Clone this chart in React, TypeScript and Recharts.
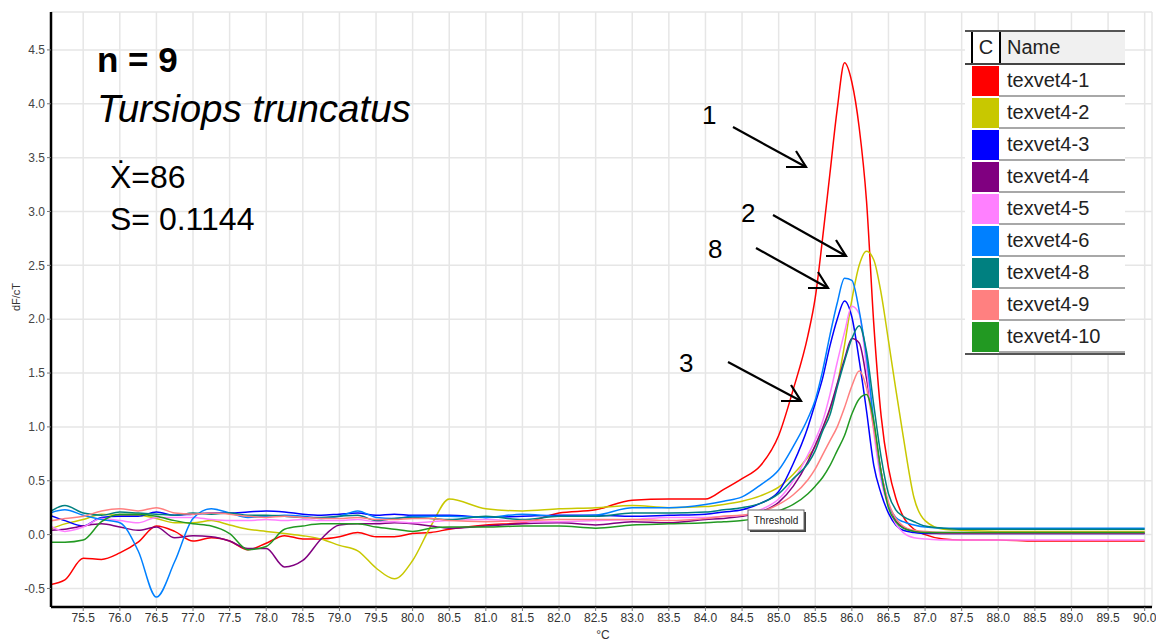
import React from "react";
import { LineChart, Line, XAxis, YAxis, CartesianGrid } from "recharts";

// melt temperature (°C) at which each curve was sampled
const temps = [
  75.0, 75.25, 75.5, 75.75, 76.0, 76.25, 76.5, 76.75, 77.0, 77.25, 77.5, 77.75,
  78.0, 78.25, 78.5, 78.75, 79.0, 79.25, 79.5, 79.75, 80.0, 80.25, 80.5,
  81.0, 81.5, 82.0, 82.5, 83.0, 83.5, 84.0,
  84.25, 84.5, 84.75, 85.0, 85.2, 85.4,
  85.5, 85.6, 85.7, 85.8, 85.9, 86.0, 86.1, 86.2, 86.3, 86.4, 86.5, 86.6, 86.7,
  86.85, 87.0, 87.25,
  87.5, 88.0, 88.5, 89.0, 89.5, 90.0,
];

// dF/cT per sample
const texvet1 = [
  -0.47, -0.42, -0.22, -0.23, -0.17, -0.07, 0.08, 0.03, -0.06, -0.03, -0.06, -0.14,
  -0.08, -0.01, -0.04, -0.04, -0.02, 0.02, -0.02, -0.02, 0.01, 0.02, 0.05,
  0.09, 0.11, 0.2, 0.23, 0.32, 0.33, 0.33,
  0.42, 0.52, 0.64, 0.92, 1.35, 1.85,
  2.2, 2.75, 3.35, 3.95, 4.38, 4.2, 3.78, 3.1, 1.95, 1.1, 0.62, 0.34, 0.17,
  0.05, 0.0, -0.04,
  -0.05, -0.05, -0.06, -0.06, -0.06, -0.06,
];
const texvet2 = [
  0.04, 0.1, 0.14, 0.19, 0.18, 0.18, 0.15, 0.11, 0.11, 0.13, 0.09, 0.05,
  0.03, 0.01, -0.01, -0.04, -0.1, -0.15, -0.31, -0.41, -0.24, 0.08, 0.33,
  0.24, 0.22, 0.24, 0.25, 0.27, 0.25, 0.26,
  0.28, 0.31, 0.36, 0.44, 0.56, 0.72,
  0.82, 0.98, 1.16, 1.39, 1.76, 2.18, 2.5, 2.63, 2.55, 2.24, 1.8, 1.35, 0.92,
  0.34, 0.13, 0.05,
  0.04, 0.03, 0.03, 0.03, 0.03, 0.03,
];
const texvet3 = [
  0.19, 0.13, 0.08, 0.16, 0.17, 0.17, 0.21, 0.18, 0.19, 0.2, 0.2, 0.21,
  0.22, 0.21, 0.19, 0.18, 0.19, 0.2, 0.18, 0.19, 0.18, 0.18, 0.18,
  0.16, 0.17, 0.18, 0.18, 0.17, 0.18, 0.19,
  0.21, 0.23, 0.29, 0.4, 0.66, 1.0,
  1.22, 1.45, 1.75, 2.0, 2.17, 2.02, 1.62, 1.15, 0.64, 0.38, 0.2, 0.09, 0.04,
  0.02, 0.01, 0.01,
  0.01, 0.01, 0.01, 0.01, 0.01, 0.01,
];
const texvet4 = [
  0.04, 0.05, 0.08, 0.1, 0.07, 0.04, 0.07, -0.03, -0.01, -0.02, -0.06, -0.13,
  -0.13, -0.3, -0.24, -0.04, 0.09, 0.1, 0.1, 0.11, 0.1, 0.08, 0.06,
  0.08, 0.1, 0.11, 0.09, 0.12, 0.11, 0.14,
  0.15, 0.17, 0.21, 0.3, 0.45, 0.68,
  0.83, 0.99, 1.17, 1.4, 1.63, 1.82, 1.78, 1.45, 1.02, 0.58, 0.28, 0.13, 0.07,
  0.03, 0.02, 0.01,
  0.01, 0.01, 0.01, 0.01, 0.01, 0.01,
];
const texvet5 = [
  0.1, 0.03, 0.07, 0.15, 0.13, 0.11, 0.16, 0.16, 0.16, 0.14, 0.13, 0.13,
  0.14, 0.13, 0.14, 0.13, 0.13, 0.14, 0.12, 0.12, 0.11, 0.12, 0.13,
  0.14, 0.12, 0.12, 0.13, 0.14, 0.16, 0.16,
  0.17, 0.18, 0.23, 0.33, 0.5, 0.74,
  0.88, 1.05, 1.3, 1.6, 1.88, 2.12, 2.05, 1.55, 0.95, 0.5, 0.26, 0.1, 0.02,
  -0.03, -0.04, -0.05,
  -0.05, -0.05, -0.05, -0.05, -0.05, -0.05,
];
const texvet6 = [
  0.19, 0.23, 0.18, 0.14, 0.11, -0.15, -0.58, -0.25, 0.15, 0.24, 0.2, 0.16,
  0.17, 0.18, 0.17, 0.15, 0.17, 0.22, 0.16, 0.15, 0.17, 0.17, 0.17,
  0.16, 0.19, 0.17, 0.18, 0.25, 0.25, 0.28,
  0.31, 0.35, 0.46, 0.6, 0.82, 1.08,
  1.25, 1.52, 1.85, 2.15, 2.38, 2.36, 2.08, 1.65, 1.05, 0.55, 0.28, 0.16, 0.12,
  0.09, 0.07, 0.06,
  0.06, 0.06, 0.06, 0.06, 0.06, 0.06,
];
const texvet8 = [
  0.19, 0.27, 0.2, 0.18, 0.21, 0.2, 0.19, 0.18, 0.2, 0.19, 0.2, 0.18,
  0.18, 0.17, 0.16, 0.16, 0.17, 0.18, 0.13, 0.15, 0.16, 0.15, 0.14,
  0.17, 0.14, 0.17, 0.17, 0.2, 0.2, 0.21,
  0.23, 0.25, 0.29, 0.38, 0.52, 0.66,
  0.78, 0.96, 1.11, 1.37, 1.61, 1.82, 1.94, 1.7, 1.2, 0.72, 0.38, 0.23, 0.17,
  0.12, 0.08, 0.06,
  0.05, 0.05, 0.05, 0.05, 0.05, 0.05,
];
const texvet9 = [
  0.12, 0.15, 0.17, 0.22, 0.24, 0.22, 0.25, 0.2, 0.19, 0.2, 0.19, 0.17,
  0.16, 0.17, 0.16, 0.15, 0.15, 0.16, 0.14, 0.14, 0.15, 0.15, 0.13,
  0.12, 0.13, 0.14, 0.14, 0.14, 0.13, 0.15,
  0.17, 0.18, 0.21, 0.28, 0.37, 0.51,
  0.61, 0.74, 0.87, 1.0, 1.18, 1.38, 1.52, 1.36, 0.98, 0.58, 0.3, 0.15, 0.08,
  0.04, 0.03, 0.02,
  0.02, 0.02, 0.02, 0.02, 0.02, 0.02,
];
const texvet10 = [
  -0.07, -0.07, -0.05, 0.12, 0.19, 0.19, 0.17, 0.13, 0.1, 0.08, 0.01, -0.14,
  -0.11, 0.05, 0.08, 0.1, 0.1, 0.1, 0.07, 0.05, 0.03, 0.06, 0.07,
  0.07, 0.08, 0.08, 0.06, 0.09, 0.1, 0.11,
  0.12, 0.13, 0.16, 0.22, 0.28, 0.38,
  0.45, 0.53, 0.64, 0.78, 0.92, 1.12, 1.26, 1.3, 1.05, 0.58, 0.25, 0.12, 0.06,
  0.03, 0.02, 0.02,
  0.02, 0.02, 0.02, 0.02, 0.02, 0.02,
];

const xTicks = [
  75.5, 76.0, 76.5, 77.0, 77.5, 78.0, 78.5, 79.0, 79.5, 80.0, 80.5, 81.0, 81.5, 82.0,
  82.5, 83.0, 83.5, 84.0, 84.5, 85.0, 85.5, 86.0, 86.5, 87.0, 87.5, 88.0, 88.5, 89.0,
  89.5, 90.0,
];
const yTicks = [-0.5, 0.0, 0.5, 1.0, 1.5, 2.0, 2.5, 3.0, 3.5, 4.0, 4.5];

const series = [
  { key: "s1", name: "texvet4-1", color: "#ff0000", values: texvet1 },
  { key: "s2", name: "texvet4-2", color: "#c8c800", values: texvet2 },
  { key: "s3", name: "texvet4-3", color: "#0000ff", values: texvet3 },
  { key: "s4", name: "texvet4-4", color: "#800080", values: texvet4 },
  { key: "s5", name: "texvet4-5", color: "#ff80ff", values: texvet5 },
  { key: "s6", name: "texvet4-6", color: "#0080ff", values: texvet6 },
  { key: "s8", name: "texvet4-8", color: "#008080", values: texvet8 },
  { key: "s9", name: "texvet4-9", color: "#ff8080", values: texvet9 },
  { key: "s10", name: "texvet4-10", color: "#229922", values: texvet10 },
];

const data = temps.map((t, i) => {
  const row: Record<string, number> = { t };
  series.forEach((s) => (row[s.key] = s.values[i]));
  return row;
});

// hand-drawn arrows on the slide: label, tail, head
const arrows = [
  { label: "1", lx: 702, ly: 124, x1: 733, y1: 127, x2: 806, y2: 167 },
  { label: "2", lx: 741, ly: 222, x1: 773, y1: 215, x2: 846, y2: 256 },
  { label: "8", lx: 708, ly: 258, x1: 756, y1: 248, x2: 828, y2: 288 },
  { label: "3", lx: 679, ly: 372, x1: 728, y1: 362, x2: 801, y2: 401 },
];

const tickFont = "'Liberation Sans Narrow', 'Liberation Sans', Arial, sans-serif";
const textFont = "'Liberation Sans', Arial, sans-serif";

const Legend = () => (
  <div
    style={{
      position: "absolute",
      left: 965,
      top: 30,
      width: 160,
      background: "#fff",
      borderTop: "2px solid #555",
      borderBottom: "2px solid #555",
      fontFamily: textFont,
      fontSize: 20,
      color: "#222",
    }}
  >
    <div style={{ display: "flex", height: 31, borderBottom: "2px solid #444" }}>
      <div
        style={{
          width: 26,
          marginLeft: 6,
          borderLeft: "2px solid #000",
          borderRight: "2px solid #000",
          textAlign: "center",
          lineHeight: "31px",
        }}
      >
        C
      </div>
      <div style={{ flex: 1, background: "#f0f0f0", paddingLeft: 6, lineHeight: "31px" }}>Name</div>
    </div>
    {series.map((s) => (
      <div key={s.key} style={{ display: "flex", height: 32 }}>
        <div style={{ width: 7 }} />
        <div style={{ width: 27, height: 30, marginTop: 1, background: s.color }} />
        <div
          style={{
            flex: 1,
            paddingLeft: 8,
            lineHeight: "30px",
            borderBottom: "2px solid #a8a8a8",
          }}
        >
          {s.name}
        </div>
      </div>
    ))}
  </div>
);

export default function App() {
  return (
    <div style={{ position: "absolute", left: 0, top: 0, width: 1156, height: 642, background: "#fff" }}>
      <LineChart width={1156} height={642} data={data} margin={{ top: 12, right: 4, bottom: 0, left: 7 }}>
        <CartesianGrid stroke="#e6e6e6" strokeWidth={1.5} />
        <XAxis
          type="number"
          dataKey="t"
          domain={[75.06, 90.1]}
          allowDataOverflow
          ticks={xTicks}
          tickFormatter={(v: number) => v.toFixed(1)}
          height={35}
          axisLine={{ stroke: "#000", strokeWidth: 2.5 }}
          tickLine={{ stroke: "#777" }}
          tickSize={4}
          tick={{ fill: "#333", fontSize: 12, fontFamily: tickFont }}
        />
        <YAxis
          type="number"
          domain={[-0.672, 4.852]}
          allowDataOverflow
          ticks={yTicks}
          tickFormatter={(v: number) => v.toFixed(1)}
          width={44}
          axisLine={{ stroke: "#000", strokeWidth: 2.5 }}
          tickLine={{ stroke: "#777" }}
          tickSize={4}
          tick={{ fill: "#444", fontSize: 12, fontFamily: tickFont }}
        />
        {series.map((s) => (
          <Line
            key={s.key}
            dataKey={s.key}
            name={s.name}
            type="monotone"
            stroke={s.color}
            strokeWidth={1.5}
            dot={false}
            isAnimationActive={false}
          />
        ))}
      </LineChart>

      <svg
        width={1156}
        height={642}
        style={{ position: "absolute", left: 0, top: 0, pointerEvents: "none" }}
      >
        <text
          transform="translate(20 297) rotate(-90)"
          textAnchor="middle"
          fontSize={11}
          fill="#333"
          fontFamily={tickFont}
        >
          dF/cT
        </text>
        <text x={603} y={639} textAnchor="middle" fontSize={12} fill="#333" fontFamily={tickFont}>
          °C
        </text>

        <g fontFamily={textFont} fill="#000">
          <text x={97} y={72} fontSize={35} fontWeight="bold">n = 9</text>
          <text x={97} y={122} fontSize={38.5} fontStyle="italic">Tursiops truncatus</text>
          <text x={110} y={188} fontSize={32}>Ẋ=86</text>
          <text x={110} y={230} fontSize={32}>S= 0.1144</text>
        </g>

        {arrows.map((a) => (
          <g key={a.label}>
            <text x={a.lx} y={a.ly} fontSize={26} fontFamily={textFont} fill="#000">
              {a.label}
            </text>
            <line x1={a.x1} y1={a.y1} x2={a.x2} y2={a.y2} stroke="#000" strokeWidth={2.2} />
            <polyline
              points={`${a.x2 - 20},${a.y2} ${a.x2},${a.y2} ${a.x2 - 10},${a.y2 - 16}`}
              fill="none"
              stroke="#000"
              strokeWidth={2.2}
            />
          </g>
        ))}

        <rect x={750} y={512} width={56} height={20} fill="#444" />
        <rect x={748} y={510} width={56} height={20} fill="#fff" stroke="#666" strokeWidth={1} />
        <text x={776} y={524} textAnchor="middle" fontSize={10} fill="#222" fontFamily={textFont}>
          Threshold
        </text>
      </svg>

      <Legend />
    </div>
  );
}
